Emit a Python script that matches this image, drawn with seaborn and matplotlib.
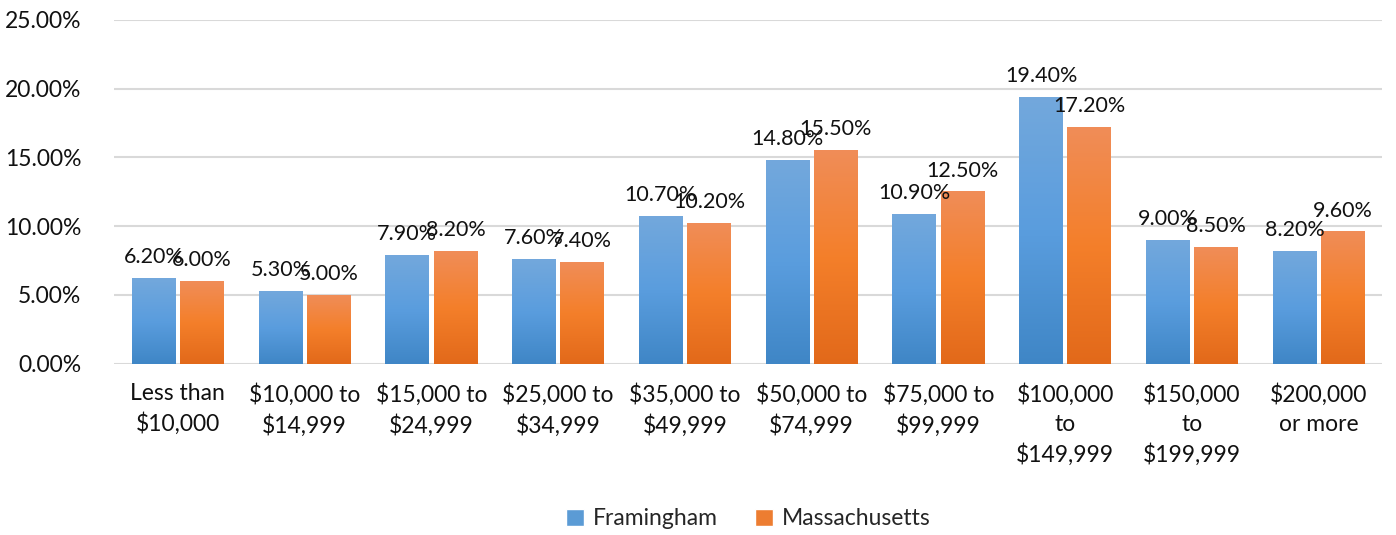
import numpy as np
import pandas as pd
import matplotlib
matplotlib.use("Agg")
import matplotlib.pyplot as plt
import seaborn as sns
from matplotlib.colors import LinearSegmentedColormap

# === Data ===
categories = ["Less than\n$10,000", "$10,000 to\n$14,999", "$15,000 to\n$24,999",
              "$25,000 to\n$34,999", "$35,000 to\n$49,999", "$50,000 to\n$74,999",
              "$75,000 to\n$99,999", "$100,000\nto\n$149,999", "$150,000\nto\n$199,999",
              "$200,000\nor more"]
framingham = [6.2, 5.3, 7.9, 7.6, 10.7, 14.8, 10.9, 19.4, 9.0, 8.2]
massachusetts = [6.0, 5.0, 8.2, 7.4, 10.2, 15.5, 12.5, 17.2, 8.5, 9.6]
series = ["Framingham", "Massachusetts"]

df = pd.DataFrame({
    "category": categories * 2,
    "value": framingham + massachusetts,
    "series": [series[0]] * len(categories) + [series[1]] * len(categories),
})

sns.set_style("white")
plt.rcParams["font.family"] = ["Lato", "DejaVu Sans"]

fig, ax = plt.subplots(figsize=(13.96, 5.35), dpi=100)
fig.subplots_adjust(left=0.082, right=0.99, top=0.963, bottom=0.32)

ax.yaxis.grid(True, color="#D9D9D9", lw=1.5)
ax.set_axisbelow(True)

sns.barplot(data=df, x="category", y="value", hue="series",
            palette=["#5B9BD5", "#ED7D31"], width=0.76, gap=0.09,
            ax=ax, legend=True)

# gradient fills, lighter at top like the spreadsheet original
grads = {
    series[0]: LinearSegmentedColormap.from_list("b", ["#3F86C6", "#5A9DDE", "#73A8DC"]),
    series[1]: LinearSegmentedColormap.from_list("o", ["#E2691A", "#F47F2A", "#F08D58"]),
}
grad = np.linspace(0, 1, 256).reshape(-1, 1)
for cont, name in zip(ax.containers, series):
    for bar in cont:
        x0, y0 = bar.get_x(), bar.get_y()
        w, h = bar.get_width(), bar.get_height()
        ax.imshow(grad, cmap=grads[name], origin="lower", aspect="auto",
                  extent=(x0, x0 + w, y0, y0 + h), zorder=2)
        bar.set_alpha(0)
    ax.bar_label(cont, labels=[f"{v:.2f}%" for v in cont.datavalues],
                 padding=8, fontsize=15.5, color="#111111")

ax.set_xlim(-0.5, len(categories) - 0.5)
ax.set_ylim(0, 25)
ax.set_yticks(np.arange(0, 26, 5))
ax.set_yticklabels([f"{t:.2f}%" for t in np.arange(0, 26, 5)])
ax.tick_params(axis="both", length=0, labelsize=16.5, colors="#111111")
ax.tick_params(axis="x", pad=14)
ax.tick_params(axis="y", pad=24)
for lbl in ax.get_xticklabels():
    lbl.set_linespacing(1.45)
ax.set_xlabel("")
ax.set_ylabel("")
for s in ax.spines.values():
    s.set_visible(False)

handles, labels = ax.get_legend_handles_labels()
for hnd, c in zip(handles, ["#5B9BD5", "#ED7D31"]):
    hnd.set_alpha(1)
    hnd.set_facecolor(c)
ax.legend(handles, labels, loc="upper center", bbox_to_anchor=(0.5, -0.36),
          ncol=2, frameon=False, fontsize=16.5, handlelength=0.8,
          handleheight=0.8, columnspacing=1.6, handletextpad=0.4)

fig.savefig("out.png", dpi=100)
